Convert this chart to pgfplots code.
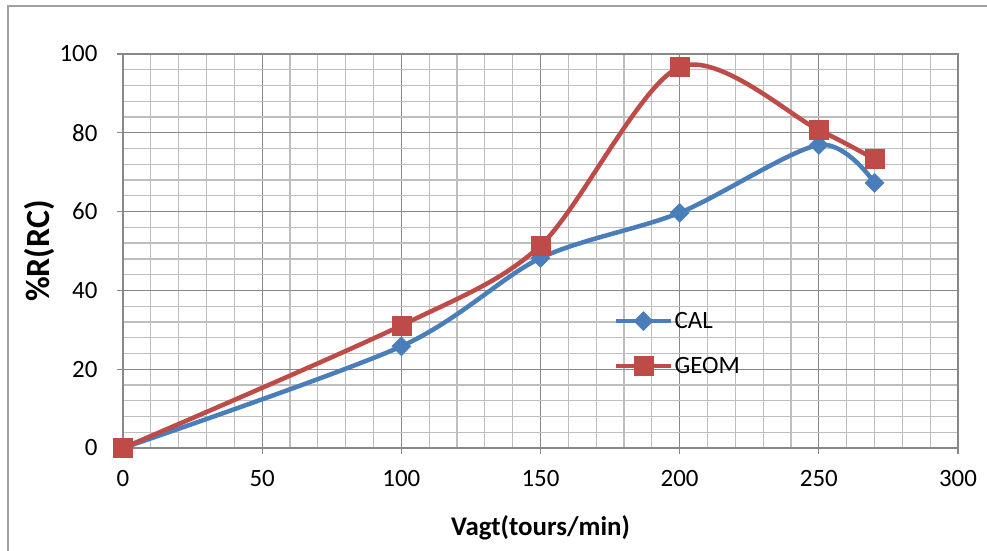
\documentclass[border=0pt]{standalone}
\usepackage{pgfplots}
\pgfplotsset{compat=1.18}
\usepackage{fontspec}
\setmainfont{Carlito}
\definecolor{calblue}{HTML}{4A7EBB}
\definecolor{geomred}{HTML}{BE4B48}
\definecolor{majgray}{HTML}{888888}
\definecolor{mingray}{HTML}{BEBEBE}
\definecolor{framegray}{HTML}{A0A0A0}
\begin{document}
\begin{tikzpicture}
\path[use as bounding box] (0,0) rectangle (987bp,551bp);
\draw[framegray, line width=1.3bp] (8bp,0) -- (8bp,545bp) -- (987bp,545bp);
\begin{axis}[
  at={(123bp,103bp)}, anchor=south west,
  scale only axis, width=835bp, height=394bp,
  xmin=0, xmax=300, ymin=0, ymax=100,
  xtick={0,50,...,300}, ytick={0,20,...,100},
  minor x tick num=4, minor y tick num=4,
  grid=both,
  major grid style={majgray, line width=1.3bp},
  minor grid style={mingray, line width=1.3bp},
  axis line style={majgray, line width=1.3bp},
  major tick style={majgray, line width=1.3bp},
  major tick length=6bp, minor tick length=0pt,
  tick align=outside,
  xtick pos=bottom, ytick pos=left,
  /pgf/number format/assume math mode=true,
  ticklabel style={font=\fontsize{25}{30}\selectfont, black},
  xticklabel style={yshift=-13bp},
  yticklabel style={xshift=-16bp},
  xlabel={\textbf{Vagt(tours/min)}},
  ylabel={\textbf{\%R(RC)}},
  xlabel style={font=\fontsize{27}{32}\selectfont, at={(axis description cs:0.5,-0.203)}, anchor=center},
  ylabel style={font=\fontsize{34}{40}\selectfont, at={(axis description cs:-0.1006,0.5)}, anchor=center},
  legend style={draw=none, fill=none, at={(0.588,0.35)}, anchor=north west,
    font=\fontsize{25}{30}\selectfont, row sep=23bp, inner sep=0pt,
    nodes={inner sep=2bp}},
  legend cell align=left,
  legend image code/.code={%
    \draw[mark repeat=2,mark phase=2,#1] plot coordinates {(0bp,0bp) (27bp,0bp) (54bp,0bp)};},
]
\addplot[calblue, line width=4.5bp, smooth, tension=0.5, mark=square*, mark size=6.7bp,
  mark options={rotate=45, solid, fill=calblue, draw=calblue, line width=0.5bp}]
  coordinates {(0,0) (100,25.8) (150,48.2) (200,59.7) (250,76.9) (270,67.3)};
\addlegendentry{CAL}
\addplot[geomred, line width=4.5bp, smooth, tension=0.5, mark=square*, mark size=9.5bp,
  mark options={solid, fill=geomred, draw=geomred, line width=0.5bp}]
  coordinates {(0,0) (100,31.1) (150,51.4) (200,96.7) (250,80.7) (270,73.3)};
\addlegendentry{GEOM}
\end{axis}
\end{tikzpicture}
\end{document}
